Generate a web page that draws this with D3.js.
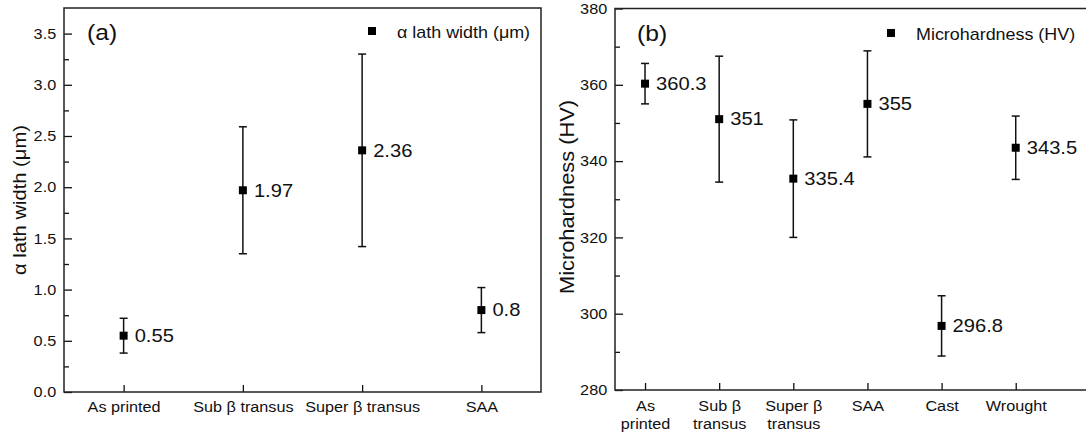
<!DOCTYPE html>
<html>
<head>
<meta charset="utf-8">
<script src="https://cdn.jsdelivr.net/npm/d3@7"></script>
<style>
body { margin: 0; background: #fff; }
svg { display: block; font-family: Arial, "Liberation Sans", sans-serif; }
</style>
</head>
<body>
<svg id="chart"></svg>
<script>
// panel (a): alpha lath width
const lathCategories = [["As printed"], ["Sub β transus"], ["Super β transus"], ["SAA"]];
const lathValues = [0.55, 1.97, 2.36, 0.8];
const lathErrors = [0.17, 0.62, 0.94, 0.22];
const lathTicks = [0, 0.5, 1.0, 1.5, 2.0, 2.5, 3.0, 3.5];

// panel (b): microhardness
const hvCategories = [["As", "printed"], ["Sub β", "transus"], ["Super β", "transus"], ["SAA"], ["Cast"], ["Wrought"]];
const hvValues = [360.3, 351, 335.4, 355, 296.8, 343.5];
const hvErrors = [5.3, 16.5, 15.4, 13.9, 7.9, 8.3];
const hvTicks = [280, 300, 320, 340, 360, 380];

const W = 1086, H = 437;
const SX = 1.12; // the source font runs wider than Arial
const ink = "#111";

const svg = d3.select("#chart").attr("width", W).attr("height", H);

function txt(g, x, y, s, size, anchor, rot) {
  return g.append("text")
    .attr("transform", `translate(${x},${y})` + (rot ? ` rotate(${rot})` : "") + ` scale(${SX},1)`)
    .attr("font-size", size)
    .attr("fill", ink)
    .attr("text-anchor", anchor || "start")
    .text(s);
}

function panel(cfg) {
  const g = svg.append("g");
  const n = cfg.cats.length;
  const x = d3.scaleLinear().domain(cfg.xDomain).range(cfg.xRange);
  const y = d3.scaleLinear().domain(cfg.yDomain).range(cfg.yRange);

  // minor y ticks (inward)
  const step = cfg.ticks[1] - cfg.ticks[0];
  const minor = cfg.ticks.map(t => t + step / 2).filter(t => t < cfg.yDomain[1]);
  g.append("g")
    .attr("transform", `translate(${cfg.xRange[0]},0)`)
    .call(d3.axisLeft(y).tickValues(minor).tickSize(-5).tickFormat(""))
    .call(a => a.select(".domain").remove())
    .call(a => a.selectAll("line").attr("stroke", ink).attr("stroke-width", 1.3));

  // major y ticks
  const ya = g.append("g")
    .attr("transform", `translate(${cfg.xRange[0]},0)`)
    .call(d3.axisLeft(y).tickValues(cfg.ticks).tickSize(-8).tickPadding(7).tickFormat(cfg.fmt));
  ya.select(".domain").remove();
  ya.selectAll("line").attr("stroke", ink).attr("stroke-width", 1.3);
  ya.selectAll("text").attr("font-size", 14.5).attr("fill", ink).attr("transform", `scale(${SX},1)`);

  // x ticks
  const xa = g.append("g")
    .attr("transform", `translate(0,${cfg.yRange[0]})`)
    .call(d3.axisBottom(x).tickValues(d3.range(1, n + 1)).tickSize(-7).tickFormat(""));
  xa.select(".domain").remove();
  xa.selectAll("line").attr("stroke", ink).attr("stroke-width", 1.3);
  xa.selectAll(".tick").each(function (d) {
    const lines = cfg.cats[d - 1];
    lines.forEach((s, k) => txt(d3.select(this), 0, cfg.labelDy + k * 18, s, 14.5, "middle"));
  });

  // frame
  g.append("rect")
    .attr("x", cfg.xRange[0]).attr("y", cfg.yRange[1])
    .attr("width", cfg.xRange[1] - cfg.xRange[0])
    .attr("height", cfg.yRange[0] - cfg.yRange[1])
    .attr("fill", "none").attr("stroke", "#222").attr("stroke-width", 1.5);

  // error bars + markers + labels
  const pts = g.selectAll(".pt").data(cfg.values).join("g").attr("class", "pt");
  pts.append("line")
    .attr("x1", (d, i) => x(i + 1)).attr("x2", (d, i) => x(i + 1))
    .attr("y1", (d, i) => y(d - cfg.errors[i])).attr("y2", (d, i) => y(d + cfg.errors[i]))
    .attr("stroke", ink).attr("stroke-width", 1.5);
  [-1, 1].forEach(sgn => {
    pts.append("line")
      .attr("x1", (d, i) => x(i + 1) - 4).attr("x2", (d, i) => x(i + 1) + 4)
      .attr("y1", (d, i) => y(d + sgn * cfg.errors[i])).attr("y2", (d, i) => y(d + sgn * cfg.errors[i]))
      .attr("stroke", ink).attr("stroke-width", 1.5);
  });
  pts.append("rect")
    .attr("x", (d, i) => x(i + 1) - 4).attr("y", d => y(d) - 4)
    .attr("width", 8).attr("height", 8).attr("fill", "#000");
  pts.each(function (d, i) {
    txt(d3.select(this), x(i + 1) + 11, y(d), String(d), 18, "start").attr("dy", "0.35em");
  });

  // panel letter
  txt(g, cfg.letterPos[0], cfg.letterPos[1], cfg.letter, 22, "start");

  // legend
  g.append("rect")
    .attr("x", cfg.legendPos[0] - 4).attr("y", cfg.legendPos[1] - 4)
    .attr("width", 8).attr("height", 8).attr("fill", "#000");
  txt(g, cfg.legendPos[0] + 25, cfg.legendPos[1] + 6.5, cfg.legend, 16, "start");

  // y title
  txt(g, cfg.titlePos[0], cfg.titlePos[1], cfg.title, cfg.titleSize, "middle", -90).attr("dy", "0.35em");
}

panel({
  cats: lathCategories, values: lathValues, errors: lathErrors,
  ticks: lathTicks, fmt: d3.format(".1f"),
  xDomain: [0.5, 4.5], xRange: [64, 541],
  yDomain: [0, 3.75], yRange: [392, 8],
  labelDy: 20,
  letter: "(a)", letterPos: [87, 40],
  legend: "α lath width (μm)", legendPos: [372, 31],
  title: "α lath width (μm)", titlePos: [20, 200], titleSize: 18
});

panel({
  cats: hvCategories, values: hvValues, errors: hvErrors,
  ticks: hvTicks, fmt: d3.format("d"),
  xDomain: [0.595, 7], xRange: [615, 615 + 6.405 * 74.14],
  yDomain: [280, 380], yRange: [390, 8.5],
  labelDy: 21,
  letter: "(b)", letterPos: [637, 41],
  legend: "Microhardness (HV)", legendPos: [891, 33],
  title: "Microhardness (HV)", titlePos: [567, 197], titleSize: 19.5
});
</script>
</body>
</html>
